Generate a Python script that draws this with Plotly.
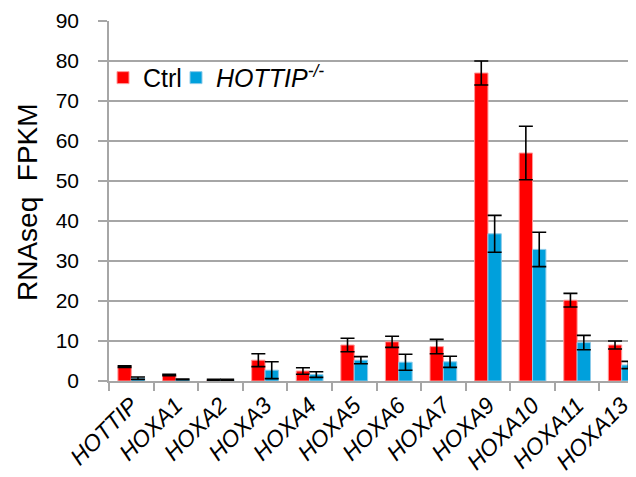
import plotly.graph_objects as go

genes = ["HOTTIP", "HOXA1", "HOXA2", "HOXA3", "HOXA4", "HOXA5", "HOXA6",
         "HOXA7", "HOXA9", "HOXA10", "HOXA11", "HOXA13"]
ctrl = [3.6, 1.5, 0.3, 5.2, 2.5, 9.0, 9.8, 8.6, 77.0, 57.0, 20.2, 9.0]
ctrl_err = [0.2, 0.2, 0.1, 1.6, 0.8, 1.7, 1.4, 1.8, 3.0, 6.7, 1.7, 1.0]
ko = [0.7, 0.4, 0.3, 2.7, 1.6, 5.2, 4.7, 4.8, 36.8, 32.9, 9.6, 4.0]
ko_err = [0.3, 0.1, 0.1, 2.1, 0.7, 0.9, 2.0, 1.4, 4.6, 4.3, 1.8, 0.9]
y_ticks = [0, 10, 20, 30, 40, 50, 60, 70, 80, 90]

FONT = "Liberation Sans, Arial, sans-serif"
GRID = "#A6A6A6"

L, T, B = 101, 13, 104
PW, PH = 636 - L, 477 - T - B

fig = go.Figure()
fig.add_trace(go.Bar(
    x=genes, y=ctrl, name="Ctrl", legend="legend",
    marker=dict(color="#FF0000", line=dict(color="#FF9A9A", width=1)),
    error_y=dict(type="data", array=ctrl_err, visible=True,
                 color="black", thickness=1.6, width=7),
))
fig.add_trace(go.Bar(
    x=genes, y=ko, name="<i>HOTTIP<sup>-/-</sup></i>", legend="legend2",
    marker=dict(color="#00A0DC", line=dict(color="#8CCBEA", width=1)),
    error_y=dict(type="data", array=ko_err, visible=True,
                 color="black", thickness=1.6, width=7),
))

leg_common = dict(
    orientation="h", xanchor="left", y=0.842, yanchor="middle",
    bgcolor="rgba(0,0,0,0)", font=dict(size=25, family=FONT),
    itemwidth=30, tracegroupgap=0,
)

fig.update_layout(
    width=636, height=477,
    margin=dict(l=L, r=0, t=T, b=B, autoexpand=False),
    paper_bgcolor="white", plot_bgcolor="white",
    barmode="group", bargap=0.4, bargroupgap=0.0,
    font=dict(family=FONT, color="black"),
    showlegend=True,
    legend=dict(x=-6 / PW, **leg_common),
    legend2=dict(x=(168 - L) / PW, **leg_common),
    xaxis=dict(
        type="category", categoryorder="array", categoryarray=genes,
        range=[-0.5, 11.5], tickson="boundaries", automargin=False,
        ticks="outside", ticklen=8, tickcolor=GRID, tickwidth=1.5,
        showline=True, linecolor=GRID, linewidth=1.5,
        showgrid=False, tickangle=-45,
        tickfont=dict(size=23, family=FONT, style="italic"),
    ),
    yaxis=dict(
        range=[0, 90], tickmode="array", tickvals=y_ticks, automargin=False,
        ticks="outside", ticklen=9, tickcolor=GRID, tickwidth=1.5,
        showline=True, linecolor=GRID, linewidth=1.5,
        showgrid=True, gridcolor=GRID, gridwidth=1.5,
        zeroline=False,
        tickfont=dict(size=21, family=FONT),
        ticklabelstandoff=15,
    ),
    annotations=[dict(
        text="RNAseq  FPKM", textangle=-90, xref="paper", yref="paper",
        x=(19 - L) / PW, y=1 - (194 - T) / PH, xanchor="center", yanchor="middle",
        showarrow=False, font=dict(size=28, family=FONT, color="black"),
    )],
)

fig.write_html("out.html")
